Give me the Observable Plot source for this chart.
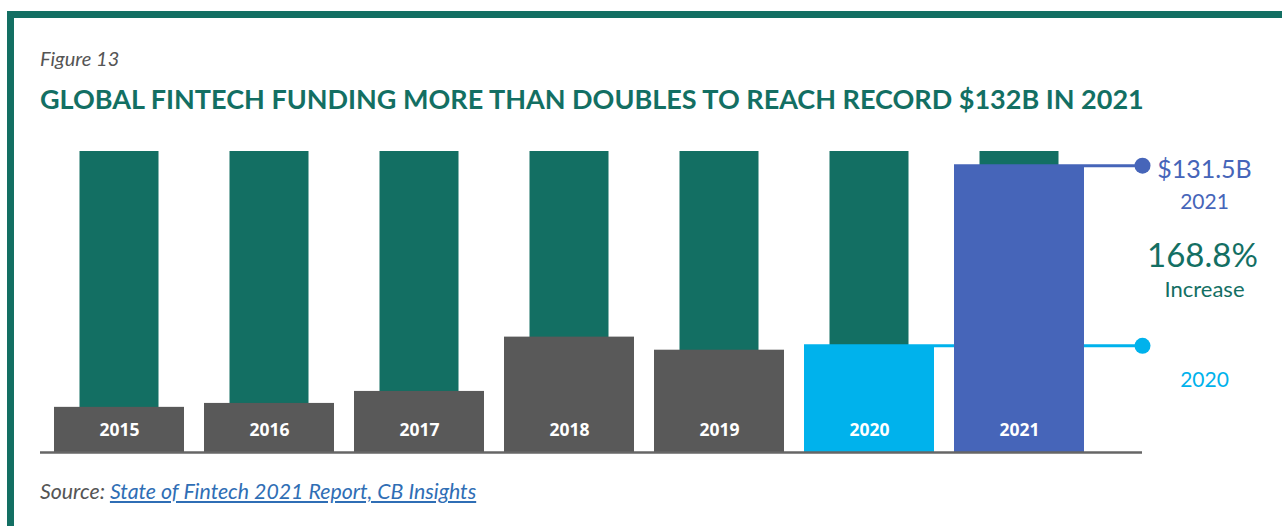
<!DOCTYPE html>
<html>
<head>
<meta charset="utf-8">
<script src="https://cdn.jsdelivr.net/npm/d3@7"></script>
<script src="https://cdn.jsdelivr.net/npm/@observablehq/plot@0.6"></script>
<style>
  html, body { margin: 0; padding: 0; background: #fff; }
  body { width: 1282px; height: 526px; position: relative; overflow: hidden; font-family: Lato, "Open Sans", sans-serif; }
  #frame { position: absolute; left: 7px; top: 11px; right: 0; bottom: -10px; border-top: 7px solid #136F63; border-left: 7px solid #136F63; }
  #fig { position: absolute; left: 40px; top: 46px; font-size: 20px; font-style: italic; color: #555; }
  #title { position: absolute; left: 40px; top: 82px; font-size: 27px; font-weight: 700; color: #136F63; white-space: nowrap; }
  #source { position: absolute; left: 40px; top: 478px; font-size: 21.3px; font-style: italic; color: #555; white-space: nowrap; }
  #source a { color: #2F6EB5; text-decoration: underline; }
  #chart { position: absolute; left: 0; top: 140px; }
</style>
</head>
<body>
<div id="frame"></div>
<div id="fig">Figure 13</div>
<div id="title">GLOBAL FINTECH FUNDING MORE THAN DOUBLES TO REACH RECORD $132B IN 2021</div>
<div id="chart"></div>
<div id="source">Source: <a href="#">State of Fintech 2021 Report, CB Insights</a></div>
<script>
const years = ["2015", "2016", "2017", "2018", "2019", "2020", "2021"];
const funding = [20.7, 22.5, 28.0, 52.9, 46.9, 48.9, 131.5];
const barColors = ["#595959", "#595959", "#595959", "#595959", "#595959", "#00B2EC", "#4665B9"];
const backgroundValue = 138;
const highlightYears = ["2020", "2021"];
const highlightColors = ["#00B2EC", "#4665B9"];
const highlightValues = [48.9, 131.5];
const valueLabel = "$131.5B";
const increaseLabel = "168.8%";
const increaseWord = "Increase";

const bars = years.map((y, i) => ({year: y, value: funding[i], color: barColors[i], bg: backgroundValue}));
const highlights = highlightYears.map((y, i) => ({year: y, value: highlightValues[i], color: highlightColors[i], last: years[years.length - 1]}));
const h2021 = highlights[1];
const h2020 = highlights[0];

const teal = "#136F63";
const plot = Plot.plot({
  width: 1282,
  height: 330,
  marginTop: 11,
  marginBottom: 18,
  marginLeft: 40,
  marginRight: 140,
  x: {type: "band", domain: years, range: [53, 1085], paddingInner: 0.135, paddingOuter: 0, axis: null},
  y: {domain: [0, backgroundValue], axis: null},
  style: {fontFamily: "Lato, sans-serif", background: "transparent"},
  marks: [
    Plot.barY(bars, {x: "year", y: "bg", fill: teal, insetLeft: 25.5, insetRight: 25.5}),
    Plot.ruleY(highlights, {y: "value", x1: "year", x2: "last", insetRight: -57, stroke: d => d.color, strokeWidth: 3}),
    Plot.barY(bars, {x: "year", y: "value", fill: d => d.color}),
    Plot.ruleY([0], {stroke: "#666", strokeWidth: 2.5}),
    Plot.dot(highlights, {y: "value", frameAnchor: "right", r: 8, fill: d => d.color, stroke: "none"}),
    Plot.text(bars, {x: "year", y: 0, dy: -22, text: "year", fill: "white", fontWeight: 700, fontSize: 17.5, fontFamily: "'Open Sans', sans-serif"}),
    Plot.text([h2021], {y: "value", frameAnchor: "right", textAnchor: "middle", dx: 62, dy: 4, text: d => valueLabel, fill: "#4665B9", fontSize: 25}),
    Plot.text([h2021], {y: "value", frameAnchor: "right", textAnchor: "middle", dx: 62, dy: 37, text: "year", fill: "#4665B9", fontSize: 21}),
    Plot.text([h2021], {y: "value", frameAnchor: "right", textAnchor: "middle", dx: 60, dy: 91, text: d => increaseLabel, fill: teal, fontSize: 33}),
    Plot.text([h2021], {y: "value", frameAnchor: "right", textAnchor: "middle", dx: 62, dy: 124, text: d => increaseWord, fill: teal, fontSize: 22}),
    Plot.text([h2020], {y: "value", frameAnchor: "right", textAnchor: "middle", dx: 62, dy: 34, text: "year", fill: "#00B2EC", fontSize: 21})
  ]
});
document.getElementById("chart").appendChild(plot);
</script>
</body>
</html>
